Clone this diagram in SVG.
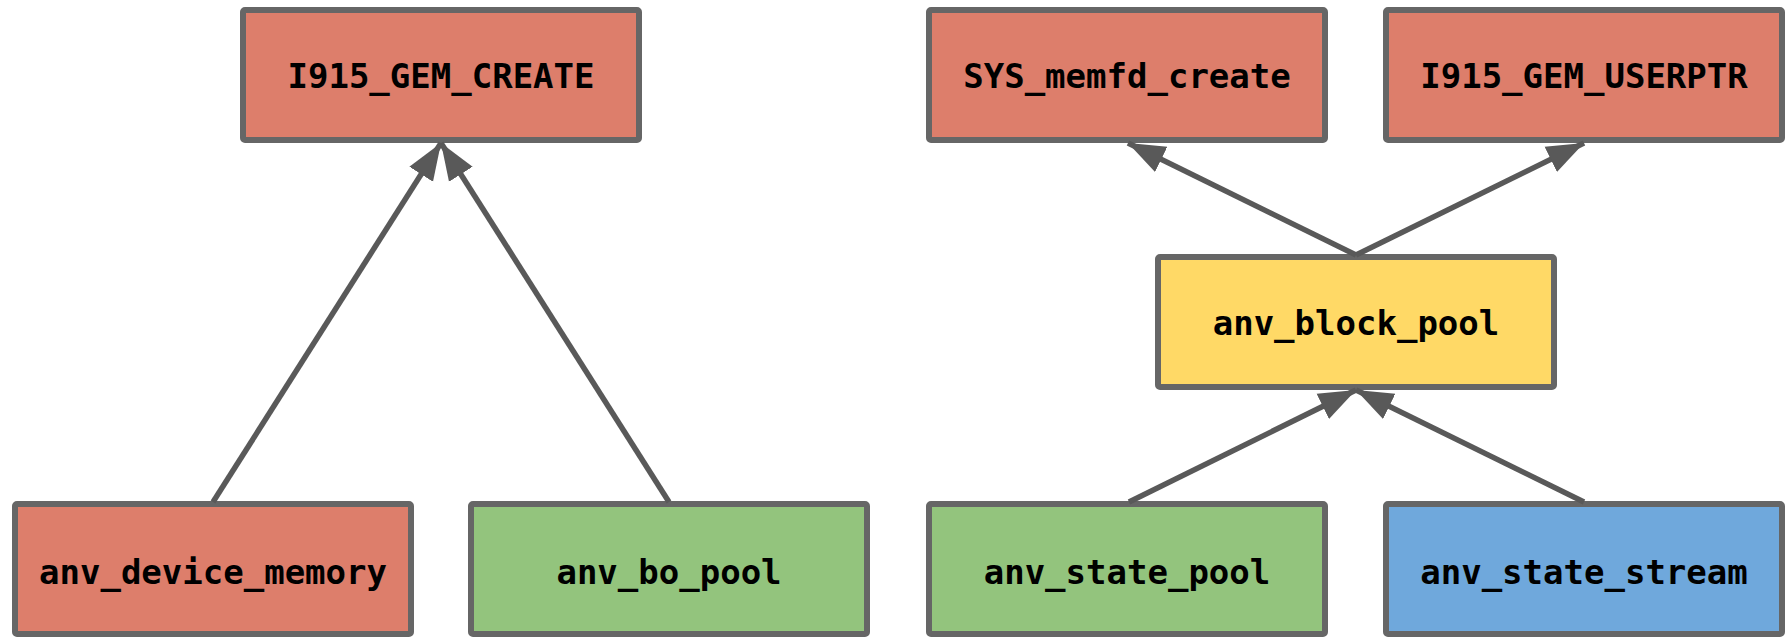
<svg xmlns="http://www.w3.org/2000/svg" width="1791" height="637" viewBox="0 0 1791 637">
  <style>
    .box { stroke: #666666; stroke-width: 6; }
    .red { fill: #dd7e6b; }
    .green { fill: #93c47d; }
    .blue { fill: #6fa8dc; }
    .yellow { fill: #ffd966; }
    .label { font-family: "DejaVu Sans Mono", "Liberation Mono", monospace; font-weight: bold; font-size: 34px; fill: #000000; text-anchor: middle; }
    .edge { stroke: #595959; stroke-width: 5.5; fill: none; marker-end: url(#arrow); }
  </style>
  <defs>
    <marker id="arrow" markerUnits="userSpaceOnUse" markerWidth="40" markerHeight="32" viewBox="0 -16 40 32" refX="37" refY="0" orient="auto">
      <path d="M0,-14 L37,0 L0,14 z" fill="#595959"/>
    </marker>
  </defs>

  <!-- top row -->
  <g id="i915_gem_create">
    <rect class="box red" x="243" y="10" width="396" height="130" rx="2"/>
    <text class="label" x="441" y="88">I915_GEM_CREATE</text>
  </g>
  <g id="sys_memfd_create">
    <rect class="box red" x="929" y="10" width="396" height="130" rx="2"/>
    <text class="label" x="1127" y="88">SYS_memfd_create</text>
  </g>
  <g id="i915_gem_userptr">
    <rect class="box red" x="1386" y="10" width="396" height="130" rx="2"/>
    <text class="label" x="1584" y="88">I915_GEM_USERPTR</text>
  </g>

  <!-- middle -->
  <g id="anv_block_pool">
    <rect class="box yellow" x="1158" y="257" width="396" height="130" rx="2"/>
    <text class="label" x="1356" y="335">anv_block_pool</text>
  </g>

  <!-- bottom row -->
  <g id="anv_device_memory">
    <rect class="box red" x="15" y="504" width="396" height="130" rx="2"/>
    <text class="label" x="213" y="584">anv_device_memory</text>
  </g>
  <g id="anv_bo_pool">
    <rect class="box green" x="471" y="504" width="396" height="130" rx="2"/>
    <text class="label" x="669" y="584">anv_bo_pool</text>
  </g>
  <g id="anv_state_pool">
    <rect class="box green" x="929" y="504" width="396" height="130" rx="2"/>
    <text class="label" x="1127" y="584">anv_state_pool</text>
  </g>
  <g id="anv_state_stream">
    <rect class="box blue" x="1386" y="504" width="396" height="130" rx="2"/>
    <text class="label" x="1584" y="584">anv_state_stream</text>
  </g>

  <!-- connectors -->
  <g id="connectors">
    <line class="edge" x1="213" y1="502" x2="441" y2="143"/>
    <line class="edge" x1="669" y1="502" x2="441" y2="143"/>
    <line class="edge" x1="1356" y1="255" x2="1128" y2="143"/>
    <line class="edge" x1="1356" y1="255" x2="1584" y2="143"/>
    <line class="edge" x1="1129" y1="502" x2="1356" y2="390"/>
    <line class="edge" x1="1584" y1="502" x2="1356" y2="390"/>
  </g>
</svg>
